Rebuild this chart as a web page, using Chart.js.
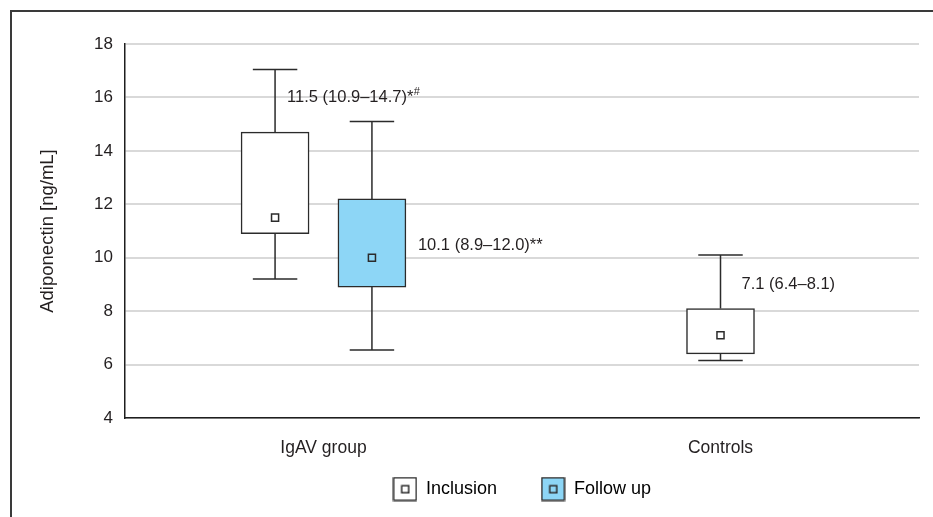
<!DOCTYPE html>
<html><head><meta charset="utf-8">
<script src="https://cdn.jsdelivr.net/npm/chart.js@4.4.1/dist/chart.umd.min.js"></script>
<style>
html,body{margin:0;padding:0;background:#fff;overflow:hidden;}
#wrap{position:relative;width:933px;height:517px;overflow:hidden;}
#frame{position:absolute;left:10px;top:10px;width:940px;height:520px;border-left:2px solid #3a3a3a;border-top:2px solid #3a3a3a;pointer-events:none;}
canvas{position:absolute;left:0;top:0;}
</style></head><body>
<div id="wrap"><canvas id="c" width="933" height="517"></canvas><div id="frame"></div></div>
<script>
// ---- data ----
const groups = ['IgAV group', 'Controls'];
const seriesNames = ['Inclusion', 'Follow up'];
const inclusionMin = [9.2, 6.15];
const inclusionQ1 = [10.9, 6.4];
const inclusionMedian = [11.5, 7.1];
const inclusionQ3 = [14.7, 8.1];
const inclusionMax = [17.05, 10.1];
const followMin = [6.55, null];
const followQ1 = [8.9, null];
const followMedian = [10.0, null];
const followQ3 = [12.2, null];
const followMax = [15.1, null];
const inclusionText = ['11.5 (10.9–14.7)*', '7.1 (6.4–8.1)'];
const inclusionSup = ['#', ''];
const followText = ['10.1 (8.9–12.0)**', null];
const followSup = ['', ''];
const yMin = 4, yMax = 18, yStep = 2;

// ---- styles / layout ----
const FONT = "'Liberation Sans', Arial, sans-serif";
const TEXT = '#231f20';
const EDGE = '#2b2b2b';
const FILLS = ['#ffffff', '#8dd6f6'];
const PAIR_SHIFT = 0.122;
const CAP_HALF = 0.056;
const labelPlace = [
  [{ at: 16.0, dx: 12 }, { at: 9.0, dx: 21 }],
  [{ at: 10.45, dx: 46 }, null]
];

const series = [
  { name: seriesNames[0], min: inclusionMin, q1: inclusionQ1, med: inclusionMedian, q3: inclusionQ3, max: inclusionMax, text: inclusionText, sup: inclusionSup },
  { name: seriesNames[1], min: followMin, q1: followQ1, med: followMedian, q3: followQ3, max: followMax, text: followText, sup: followSup }
];
function present(s, g) { return series[s].q1[g] != null; }
function xPos(s, g) {
  const paired = series.every((S, i) => present(i, g));
  return g + 0.5 + (paired ? (s === 0 ? -PAIR_SHIFT : PAIR_SHIFT) : 0);
}

const boxSets = series.map((S, s) => ({
  type: 'bar',
  label: S.name,
  data: groups.map((_, g) => present(s, g) ? { x: xPos(s, g), y: [S.q1[g], S.q3[g]] } : null).filter(Boolean),
  backgroundColor: FILLS[s],
  borderColor: EDGE,
  borderWidth: 1.5,
  borderSkipped: false,
  grouped: false,
  barThickness: 68,
  maxBarThickness: 68,
  order: 2
}));

const whiskerPts = [];
series.forEach((S, s) => groups.forEach((_, g) => {
  if (!present(s, g)) return;
  const c = xPos(s, g);
  whiskerPts.push({ x: c, y: S.q3[g] }, { x: c, y: S.max[g] }, { x: c, y: null });
  whiskerPts.push({ x: c - CAP_HALF, y: S.max[g] }, { x: c + CAP_HALF, y: S.max[g] }, { x: c, y: null });
  whiskerPts.push({ x: c, y: S.q1[g] }, { x: c, y: S.min[g] }, { x: c, y: null });
  whiskerPts.push({ x: c - CAP_HALF, y: S.min[g] }, { x: c + CAP_HALF, y: S.min[g] }, { x: c, y: null });
}));

const medPts = [], medFill = [];
series.forEach((S, s) => groups.forEach((_, g) => {
  if (!present(s, g)) return;
  medPts.push({ x: xPos(s, g), y: S.med[g] });
  medFill.push(FILLS[s]);
}));

function legendIcon(fill) {
  const c = document.createElement('canvas');
  c.width = 25; c.height = 25;
  const x = c.getContext('2d');
  x.fillStyle = fill; x.fillRect(1, 1, 23, 23);
  x.strokeStyle = EDGE; x.lineWidth = 1.5;
  x.strokeRect(1.25, 1.25, 22.5, 22.5);
  x.strokeRect(9.25, 9.25, 7, 7);
  return c;
}

const textPlugin = {
  id: 'summaryText',
  afterDatasetsDraw(chart) {
    const ctx = chart.ctx, xs = chart.scales.x, ys = chart.scales.y;
    ctx.save();
    ctx.fillStyle = TEXT;
    ctx.textBaseline = 'middle';
    ctx.textAlign = 'left';
    series.forEach((S, s) => groups.forEach((_, g) => {
      const p = labelPlace[s][g];
      if (!present(s, g) || !p || !S.text[g]) return;
      const px = xs.getPixelForValue(xPos(s, g)) + p.dx;
      const py = ys.getPixelForValue(p.at);
      ctx.font = '16.5px ' + FONT;
      ctx.fillText(S.text[g], px, py);
      if (S.sup[g]) {
        const w = ctx.measureText(S.text[g]).width;
        ctx.font = '11px ' + FONT;
        ctx.fillText(S.sup[g], px + w + 0.5, py - 5);
      }
    }));
    ctx.restore();
  }
};

new Chart(document.getElementById('c'), {
  type: 'bar',
  data: {
    datasets: [
      ...boxSets,
      { type: 'line', label: 'whiskers', data: whiskerPts, borderColor: EDGE, borderWidth: 1.5, pointRadius: 0, spanGaps: false, fill: false, order: 3 },
      { type: 'scatter', label: 'medians', data: medPts, pointStyle: 'rect', pointRadius: 5, backgroundColor: medFill, borderColor: EDGE, borderWidth: 1.5, order: 1 }
    ]
  },
  options: {
    responsive: false,
    animation: false,
    events: [],
    layout: { padding: { left: 0, right: 14, top: 44, bottom: 9 } },
    scales: {
      x: {
        type: 'linear', min: 0, max: groups.length, offset: false,
        grid: { display: false, drawTicks: false },
        border: { display: true, color: '#1e1e1e', width: 1.5 },
        afterBuildTicks: sc => { sc.ticks = groups.map((_, i) => ({ value: i + 0.5 })); },
        afterFit: sc => { sc.height = 48; },
        ticks: {
          autoSkip: false, maxRotation: 0, padding: 13, color: TEXT,
          font: { family: FONT, size: 17.5, lineHeight: 34 / 17.5 },
          callback: v => groups[Math.round(v - 0.5)]
        }
      },
      y: {
        min: yMin, max: yMax,
        ticks: { stepSize: yStep, padding: 12, color: TEXT, font: { family: FONT, size: 17 } },
        grid: { color: '#d9d9d9', lineWidth: 2, drawTicks: false },
        border: { display: true, color: '#1e1e1e', width: 1.5 },
        title: { display: true, text: 'Adiponectin [ng/mL]', color: TEXT, font: { family: FONT, size: 18.5 }, padding: { top: 37, bottom: 0 } },
        afterFit: sc => { sc.width = 125; }
      }
    },
    plugins: {
      tooltip: { enabled: false },
      legend: {
        position: 'bottom', fullSize: false,
        labels: {
          usePointStyle: true, pointStyleWidth: 24, padding: 14, color: TEXT,
          font: { family: FONT, size: 18 },
          generateLabels: () => series.map((S, i) => ({
            text: S.name + (i < series.length - 1 ? ' '.repeat(6) : ''),
            pointStyle: legendIcon(FILLS[i]),
            fillStyle: FILLS[i], strokeStyle: EDGE, lineWidth: 0, hidden: false, datasetIndex: i
          }))
        }
      }
    }
  },
  plugins: [textPlugin]
});
</script>
</body></html>
